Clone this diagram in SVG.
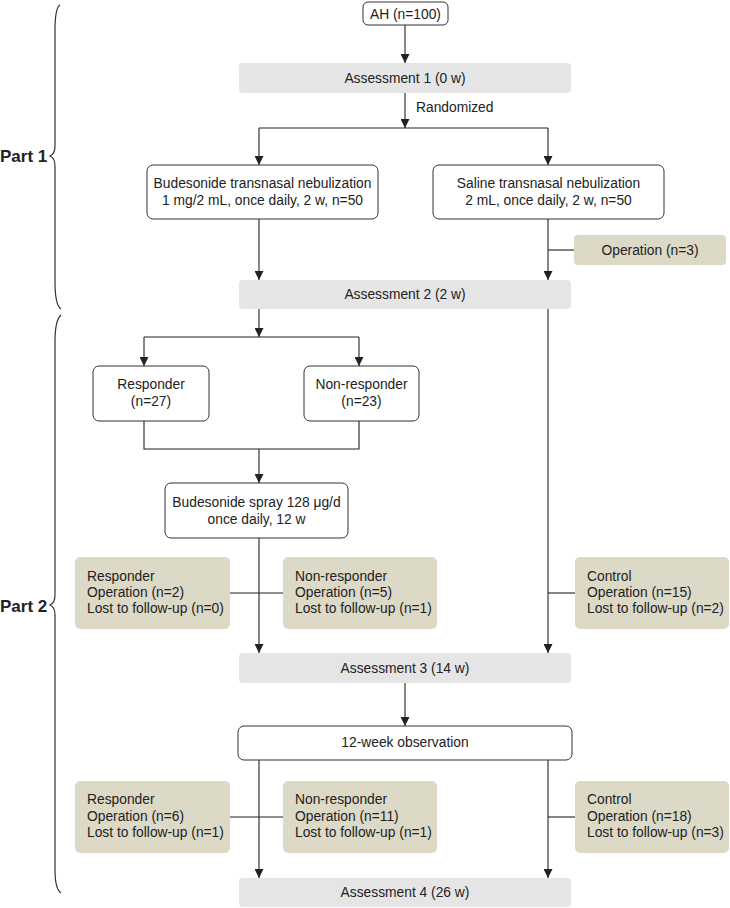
<svg xmlns="http://www.w3.org/2000/svg" width="730" height="908" viewBox="0 0 730 908">
<style>
text{font-family:"Liberation Sans",Arial,sans-serif;font-size:13.8px;fill:#222}
.c{text-anchor:middle}
.w{fill:#fff;stroke:#333;stroke-width:1}
.g{fill:#e5e5e5}
.t{fill:#dcd9c6}
.ln{fill:none;stroke:#222;stroke-width:1.1}
.br{fill:none;stroke:#333;stroke-width:1.2}
.part{font-weight:bold;font-size:17px}
</style>
<defs>
<marker id="ah" markerUnits="userSpaceOnUse" markerWidth="9" markerHeight="9" refX="9" refY="4.5" orient="auto">
<path d="M0,0 L9,4.5 L0,9 z" fill="#222"/>
</marker>
</defs>
<rect width="730" height="908" fill="#fff"/>

<g id="connectors">
<line class="ln" x1="405" y1="25" x2="405" y2="63" marker-end="url(#ah)"/>
<line class="ln" x1="405" y1="93" x2="405" y2="128" marker-end="url(#ah)"/>
<line class="ln" x1="259" y1="128" x2="548" y2="128"/>
<line class="ln" x1="259" y1="128" x2="259" y2="165" marker-end="url(#ah)"/>
<line class="ln" x1="548" y1="128" x2="548" y2="165" marker-end="url(#ah)"/>
<line class="ln" x1="259" y1="219" x2="259" y2="280" marker-end="url(#ah)"/>
<line class="ln" x1="548" y1="219" x2="548" y2="280" marker-end="url(#ah)"/>
<line class="ln" x1="548" y1="250" x2="574" y2="250"/>
<line class="ln" x1="259" y1="309" x2="259" y2="337" marker-end="url(#ah)"/>
<line class="ln" x1="144" y1="337" x2="359" y2="337"/>
<line class="ln" x1="144" y1="337" x2="144" y2="366" marker-end="url(#ah)"/>
<line class="ln" x1="359" y1="337" x2="359" y2="366" marker-end="url(#ah)"/>
<polyline class="ln" points="144,421 144,449 359,449 359,421"/>
<line class="ln" x1="259" y1="449" x2="259" y2="483" marker-end="url(#ah)"/>
<line class="ln" x1="259" y1="538" x2="259" y2="653" marker-end="url(#ah)"/>
<line class="ln" x1="548" y1="309" x2="548" y2="653" marker-end="url(#ah)"/>
<line class="ln" x1="230" y1="593" x2="283" y2="593"/>
<line class="ln" x1="548" y1="593" x2="575" y2="593"/>
<line class="ln" x1="405" y1="683" x2="405" y2="726" marker-end="url(#ah)"/>
<line class="ln" x1="259" y1="760" x2="259" y2="878" marker-end="url(#ah)"/>
<line class="ln" x1="548" y1="760" x2="548" y2="878" marker-end="url(#ah)"/>
<line class="ln" x1="230" y1="817" x2="283" y2="817"/>
<line class="ln" x1="548" y1="817" x2="575" y2="817"/>
<text x="416" y="112">Randomized</text>
</g>

<g id="part1">
<path class="br" d="M60,5 Q55,8 55,30 L55,146 Q55,154 50,156 Q55,158 55,166 L55,282 Q55,305 61,309"/>
<text class="part" x="0" y="162">Part 1</text>
</g>
<g id="part2">
<path class="br" d="M61,315 Q55,320 55,342 L55,595 Q55,603 50,605 Q55,607 55,615 L55,870 Q55,889 61,893"/>
<text class="part" x="0" y="612">Part 2</text>
</g>

<g id="ah-node"><rect class="w" x="363" y="2" width="85" height="23" rx="5"/><text class="c" x="405.5" y="19">AH (n=100)</text></g>
<g id="assess1"><rect class="g" x="239" y="63" width="332" height="30" rx="4"/><text class="c" x="405" y="83">Assessment 1 (0 w)</text></g>
<g id="budesonide-neb"><rect class="w" x="147" y="165" width="231" height="54" rx="6"/><text class="c" x="262.5" y="188">Budesonide transnasal nebulization</text><text class="c" x="262.5" y="205">1 mg/2 mL, once daily, 2 w, n=50</text></g>
<g id="saline-neb"><rect class="w" x="433" y="165" width="231" height="54" rx="6"/><text class="c" x="548.5" y="188">Saline transnasal nebulization</text><text class="c" x="548.5" y="205">2 mL, once daily, 2 w, n=50</text></g>
<g id="operation3"><rect class="t" x="574" y="235" width="152" height="30" rx="4"/><text class="c" x="650" y="255">Operation (n=3)</text></g>
<g id="assess2"><rect class="g" x="239" y="280" width="332" height="29" rx="4"/><text class="c" x="405" y="299">Assessment 2 (2 w)</text></g>
<g id="responder"><rect class="w" x="93" y="366" width="116" height="55" rx="6"/><text class="c" x="151" y="389">Responder</text><text class="c" x="151" y="406">(n=27)</text></g>
<g id="nonresponder"><rect class="w" x="304" y="366" width="115" height="55" rx="6"/><text class="c" x="361.5" y="389">Non-responder</text><text class="c" x="361.5" y="406">(n=23)</text></g>
<g id="spray"><rect class="w" x="165" y="483" width="183" height="55" rx="6"/><text class="c" x="256.5" y="507">Budesonide spray 128 μg/d</text><text class="c" x="256.5" y="524">once daily, 12 w</text></g>
<g id="resp-out1"><rect class="t" x="75" y="557" width="155" height="72" rx="5"/><text x="87" y="581">Responder</text><text x="87" y="597">Operation (n=2)</text><text x="87" y="613">Lost to follow-up (n=0)</text></g>
<g id="nonresp-out1"><rect class="t" x="283" y="557" width="154" height="72" rx="5"/><text x="295" y="581">Non-responder</text><text x="295" y="597">Operation (n=5)</text><text x="295" y="613">Lost to follow-up (n=1)</text></g>
<g id="control-out1"><rect class="t" x="575" y="557" width="154" height="72" rx="5"/><text x="587" y="581">Control</text><text x="587" y="597">Operation (n=15)</text><text x="587" y="613">Lost to follow-up (n=2)</text></g>
<g id="assess3"><rect class="g" x="239" y="653" width="332" height="30" rx="4"/><text class="c" x="405" y="673">Assessment 3 (14 w)</text></g>
<g id="observation"><rect class="w" x="238" y="726" width="334" height="34" rx="6"/><text class="c" x="405" y="747">12-week observation</text></g>
<g id="resp-out2"><rect class="t" x="75" y="781" width="155" height="72" rx="5"/><text x="87" y="804">Responder</text><text x="87" y="821">Operation (n=6)</text><text x="87" y="837">Lost to follow-up (n=1)</text></g>
<g id="nonresp-out2"><rect class="t" x="283" y="781" width="154" height="72" rx="5"/><text x="295" y="804">Non-responder</text><text x="295" y="821">Operation (n=11)</text><text x="295" y="837">Lost to follow-up (n=1)</text></g>
<g id="control-out2"><rect class="t" x="575" y="781" width="154" height="72" rx="5"/><text x="587" y="804">Control</text><text x="587" y="821">Operation (n=18)</text><text x="587" y="837">Lost to follow-up (n=3)</text></g>
<g id="assess4"><rect class="g" x="239" y="878" width="332" height="29" rx="4"/><text class="c" x="405" y="897">Assessment 4 (26 w)</text></g>
</svg>
